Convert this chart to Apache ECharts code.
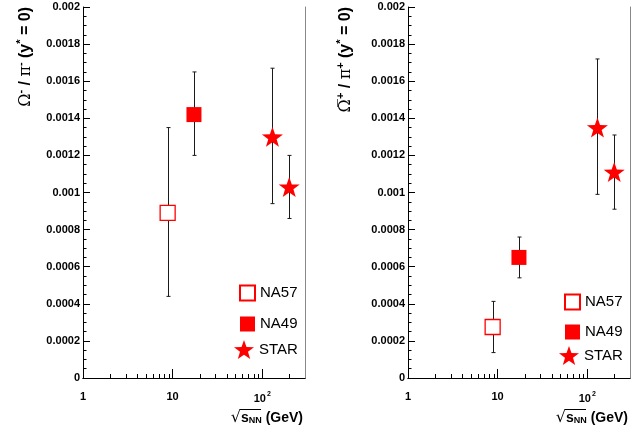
<!DOCTYPE html>
<html>
<head>
<meta charset="utf-8">
<script src="https://cdn.jsdelivr.net/npm/echarts@6/dist/echarts.min.js"></script>
<style>
  html, body { margin: 0; padding: 0; background: #fff; }
  #chart { width: 642px; height: 432px; }
</style>
</head>
<body>
<div id="chart"></div>
<script>
// sqrt(s_NN) in GeV
const energyNA57 = [8.8];
const energyNA49 = [17.3];
const energySTAR = [130, 200];

// Omega- / pi-  : value, lower end, upper end of the error bar
const omNA57 = [0.00089];
const omNA57Err = [[0.00044, 0.00135]];
const omNA49 = [0.00142];
const omNA49Err = [[0.00120, 0.00165]];
const omSTAR = [0.00130, 0.00103];
const omSTARErr = [[0.00094, 0.00167], [0.00086, 0.00120]];

// anti-Omega+ / pi+
const aomNA57 = [0.000275];
const aomNA57Err = [[0.000137, 0.000413]];
const aomNA49 = [0.00065];
const aomNA49Err = [[0.00054, 0.00076]];
const aomSTAR = [0.00135, 0.00111];
const aomSTARErr = [[0.00099, 0.00172], [0.00091, 0.00131]];

const minorTicksX = [2, 3, 4, 5, 6, 7, 8, 9, 20, 30, 40, 50, 60, 70, 80, 90, 200];

const RED = '#ff0000';
const STAR = 'path://M0,-10L2.351,-3.236L9.511,-3.09L3.804,1.236L5.878,8.09L0,4L-5.878,8.09L-3.804,1.236L-9.511,-3.09L-2.351,-3.236Z';
const FONT = 'Liberation Sans, Arial, sans-serif';

const chart = echarts.init(document.getElementById('chart'));

function pairs(xs, ys) {
  return xs.map((x, i) => [x, ys[i]]);
}
function errPairs(xs, errs) {
  return xs.map((x, i) => [x, errs[i][0], errs[i][1]]);
}

function xLabel(v) {
  const p = Math.round(Math.log10(v));
  if (Math.abs(Math.log10(v) - p) > 0.01) return '';
  if (p === 0) return '1';
  if (p === 1) return '10';
  return '{b|10}{sup|' + p + '}';
}

function panelAxes(g) {
  const xs = [
    {
      type: 'log', logBase: 10, gridIndex: g, min: 1, max: 300,
      axisLine: { lineStyle: { color: '#000', width: 1 } },
      axisTick: { inside: true, length: 9, lineStyle: { color: '#000' } },
      axisLabel: {
        formatter: xLabel, showMaxLabel: false, margin: 13,
        color: '#000', fontFamily: FONT, fontWeight: 'bold', fontSize: 11,
        rich: {
          b: { fontFamily: FONT, fontWeight: 'bold', fontSize: 11, color: '#000' },
          sup: { fontFamily: FONT, fontWeight: 'bold', fontSize: 7, color: '#000', padding: [0, 0, 8, 1] }
        }
      },
      splitLine: { show: false }
    },
    {
      type: 'log', logBase: 10, gridIndex: g, min: 1, max: 300, position: 'top',
      axisLine: { lineStyle: { color: '#000', width: 1 } },
      axisTick: { show: false }, axisLabel: { show: false }, splitLine: { show: false }
    }
  ];
  const ys = [
    {
      type: 'value', gridIndex: g, min: 0, max: 0.002, interval: 0.0002,
      axisLine: { show: true, lineStyle: { color: '#000', width: 1 } },
      axisTick: { show: true, inside: true, length: 7, lineStyle: { color: '#000' } },
      minorTick: { show: true, splitNumber: 4, length: 3.5, lineStyle: { color: '#000' } },
      axisLabel: {
        margin: 3, color: '#000', fontFamily: FONT, fontWeight: 'bold', fontSize: 11,
        formatter: v => String(+v.toFixed(5))
      },
      splitLine: { show: false }
    },
    {
      type: 'value', gridIndex: g, min: 0, max: 0.002, position: 'right',
      axisLine: { show: true, lineStyle: { color: '#888', width: 1 } },
      axisTick: { show: false }, axisLabel: { show: false }, splitLine: { show: false }
    }
  ];
  return { xs, ys };
}

function errorBars(g, name, data) {
  return {
    type: 'custom', name: name + ' err', xAxisIndex: g * 2, yAxisIndex: g * 2,
    z: 2, silent: true, encode: { x: 0, y: [1, 2] },
    data: data,
    renderItem: (params, api) => {
      const x = api.value(0);
      const lo = api.coord([x, api.value(1)]);
      const hi = api.coord([x, api.value(2)]);
      const px = Math.round(lo[0]) + 0.5;
      const st = { stroke: '#1a1a1a', lineWidth: 1 };
      return {
        type: 'group',
        children: [
          { type: 'line', shape: { x1: px, y1: lo[1], x2: px, y2: hi[1] }, style: st },
          { type: 'line', shape: { x1: px - 2, y1: lo[1], x2: px + 2, y2: lo[1] }, style: st },
          { type: 'line', shape: { x1: px - 2, y1: hi[1], x2: px + 2, y2: hi[1] }, style: st }
        ]
      };
    }
  };
}

function minorTicks(g) {
  return {
    type: 'custom', xAxisIndex: g * 2, yAxisIndex: g * 2, silent: true, z: 1,
    encode: { x: 0, y: 1 },
    data: minorTicksX.map(v => [v, 0]),
    renderItem: (params, api) => {
      const p = api.coord([api.value(0), 0]);
      const px = Math.round(p[0]) + 0.5;
      return { type: 'line', shape: { x1: px, y1: p[1], x2: px, y2: p[1] - 4 }, style: { stroke: '#000', lineWidth: 1 } };
    }
  };
}

function points(g, name, data, kind) {
  const s = {
    type: 'scatter', name: name, xAxisIndex: g * 2, yAxisIndex: g * 2, z: 3,
    data: data
  };
  if (kind === 'open') {
    s.symbol = 'rect'; s.symbolSize = 15;
    s.itemStyle = { color: '#fff', borderColor: RED, borderWidth: 1.3, opacity: 1 };
  } else if (kind === 'full') {
    s.symbol = 'rect'; s.symbolSize = 15;
    s.itemStyle = { color: RED, opacity: 1 };
  } else {
    s.symbol = STAR; s.symbolSize = 21; s.symbolKeepAspect = true;
    s.itemStyle = { color: RED, opacity: 1 };
  }
  return s;
}

const a0 = panelAxes(0);
const a1 = panelAxes(1);

const legendText = { fontFamily: FONT, fontSize: 15, color: '#000', lineHeight: 15 };

function legend(left, top, names, size, gap) {
  return {
    left: left, top: top, orient: 'vertical', itemWidth: size, itemHeight: size,
    itemGap: gap, padding: 0, selectedMode: false, data: names, textStyle: legendText
  };
}

const titleRich = {
  g: { fontFamily: 'DejaVu Serif', fontSize: 16, color: '#000' },
  b: { fontFamily: FONT, fontWeight: 'bold', fontSize: 16, color: '#000' },
  sup: { fontFamily: FONT, fontWeight: 'bold', fontSize: 11, color: '#000', padding: [0, 0, 10, 0] }
};

const xTitleRich = {
  r: { fontFamily: 'DejaVu Sans', fontSize: 16, color: '#000' },
  s: { fontFamily: FONT, fontWeight: 'bold', fontSize: 14, color: '#000' },
  sub: { fontFamily: FONT, fontWeight: 'bold', fontSize: 9, color: '#000', padding: [6, 0, 0, 0] },
  b: { fontFamily: FONT, fontWeight: 'bold', fontSize: 14, color: '#000' }
};

function xTitle(right) {
  return {
    type: 'group',
    children: [
      {
        type: 'text', x: right, y: 418,
        style: { text: '{r|√}{s|s}{sub|NN}{b| (GeV)}', rich: xTitleRich, align: 'right', verticalAlign: 'middle' }
      },
      {
        type: 'line', shape: { x1: right - 63, y1: 409.5, x2: right - 42, y2: 409.5 },
        style: { stroke: '#000', lineWidth: 1 }
      }
    ]
  };
}

const option = {
  animation: false,
  backgroundColor: '#fff',
  grid: [
    { left: 83, right: 337, top: 7, bottom: 54 },
    { left: 408, right: 12, top: 7, bottom: 54 }
  ],
  xAxis: a0.xs.concat(a1.xs),
  yAxis: a0.ys.concat(a1.ys),
  legend: [
    legend(239, 284.5, ['NA57', 'NA49'], 15, 15),
    legend(234, 340, ['STAR'], 20, 0),
    legend(564, 293.5, ['NA57', 'NA49'], 15, 14),
    legend(559, 346, ['STAR'], 20, 0)
  ],
  graphic: [
    {
      type: 'text', x: 26, y: 7, rotation: Math.PI / 2,
      style: { text: '{g|Ω}{sup|-}{b| / }{g|π}{sup|-}{b| (y}{sup|*}{b| = 0)}', rich: titleRich, align: 'right', verticalAlign: 'middle' }
    },
    {
      type: 'text', x: 346, y: 7, rotation: Math.PI / 2,
      style: { text: '{g|Ω\u0305}{sup|+}{b| / }{g|π}{sup|+}{b| (y}{sup|*}{b| = 0)}', rich: titleRich, align: 'right', verticalAlign: 'middle' }
    },
    xTitle(303),
    xTitle(628)
  ],
  series: [
    minorTicks(0),
    errorBars(0, 'NA57', errPairs(energyNA57, omNA57Err)),
    errorBars(0, 'NA49', errPairs(energyNA49, omNA49Err)),
    errorBars(0, 'STAR', errPairs(energySTAR, omSTARErr)),
    points(0, 'NA57', pairs(energyNA57, omNA57), 'open'),
    points(0, 'NA49', pairs(energyNA49, omNA49), 'full'),
    points(0, 'STAR', pairs(energySTAR, omSTAR), 'star'),
    minorTicks(1),
    errorBars(1, 'NA57', errPairs(energyNA57, aomNA57Err)),
    errorBars(1, 'NA49', errPairs(energyNA49, aomNA49Err)),
    errorBars(1, 'STAR', errPairs(energySTAR, aomSTARErr)),
    points(1, 'NA57', pairs(energyNA57, aomNA57), 'open'),
    points(1, 'NA49', pairs(energyNA49, aomNA49), 'full'),
    points(1, 'STAR', pairs(energySTAR, aomSTAR), 'star')
  ]
};

chart.setOption(option);
</script>
</body>
</html>
